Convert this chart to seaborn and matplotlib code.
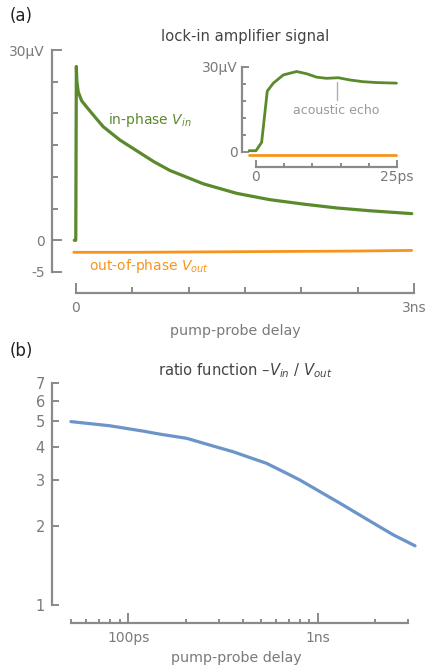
import numpy as np
import pandas as pd
import matplotlib
matplotlib.use("Agg")
import matplotlib.pyplot as plt
import seaborn as sns
from matplotlib.ticker import FixedLocator, NullFormatter, FixedFormatter

# ---------------- data ----------------
# panel (a) main: delay in ns, signal in microvolts
t_in_ns = [-0.015, -0.002, 0.003, 0.008, 0.02, 0.05, 0.095, 0.17, 0.242, 0.39, 0.54, 0.69, 0.834, 1.13, 1.426, 1.72, 2.02, 2.31, 2.61, 2.98]
v_in = [0.0, 0.0, 27.4, 25.0, 23.4, 22.0, 21.0, 19.4, 17.9, 15.8, 14.1, 12.4, 11.0, 8.9, 7.4, 6.4, 5.7, 5.1, 4.65, 4.2]
t_out_ns = [-0.02, 0.5, 1.0, 1.5, 2.0, 2.5, 2.98]
v_out = [-1.9, -1.9, -1.85, -1.8, -1.75, -1.7, -1.6]

# panel (a) inset: delay in ps, signal in microvolts
t_in_ps = [-1.2, 0.0, 1.0, 2.0, 3.07, 4.85, 7.2, 9.0, 10.75, 12.5, 14.6, 16.7, 19.0, 21.4, 24.9]
v_in_ps = [0.35, 0.35, 3.3, 21.4, 24.2, 27.1, 28.3, 27.5, 26.3, 25.9, 26.1, 25.3, 24.7, 24.4, 24.2]
t_out_ps = [-1.2, 24.9]
v_out_ps = [-1.2, -1.2]
echo_ps = 14.3

# panel (b): delay in ps, ratio -Vin/Vout
t_ratio_ps = [49.7, 79.9, 119.7, 146.6, 202.8, 269.5, 357, 536, 684, 803, 1025, 1306, 1959, 2495, 3251]
ratio = [4.99, 4.81, 4.59, 4.47, 4.31, 4.06, 3.83, 3.46, 3.17, 2.99, 2.70, 2.44, 2.05, 1.85, 1.68]

# tick labels
a_yticks = [-5, 0, 30]
a_yticklabels = ["-5", "0", "30µV"]
a_xticks = [0, 3]
a_xticklabels = ["0", "3ns"]
in_yticklabels = ["0", "30µV"]
in_xticklabels = ["0", "25ps"]
b_yticks = [1, 2, 3, 4, 5, 6, 7]
b_xticks = [100, 1000]
b_xticklabels = ["100ps", "1ns"]

# ---------------- style ----------------
sns.set_theme(style="ticks")
plt.rcParams['font.family'] = ['DejaVu Sans']
plt.rcParams['mathtext.fontset'] = 'dejavusans'

GREEN = "#5a8a2c"
ORANGE = "#f7941d"
BLUE = "#6b94c9"
AX = "#8a8a8a"
TXT = "#7a7a7a"
TITLE = "#444444"
FS = 10

W, H = 427, 666
fig = plt.figure(figsize=(W / 100, H / 100), dpi=100)


def add_ax(left, top, right, bottom):
    return fig.add_axes([left / W, 1 - bottom / H, (right - left) / W, (bottom - top) / H])


def style_ax(ax):
    for s in ["top", "right"]:
        ax.spines[s].set_visible(False)
    for s in ["left", "bottom"]:
        ax.spines[s].set_color(AX)
        ax.spines[s].set_linewidth(1.6)
    ax.tick_params(which="both", direction="in", color=AX, width=1.4, labelcolor=TXT, labelsize=FS)
    ax.tick_params(which="major", length=7)
    ax.tick_params(which="minor", length=4)
    ax.set_facecolor("none")
    ax.grid(False)


def line(ax, x, y, color, lw):
    df = pd.DataFrame({"x": x, "y": y})
    sns.lineplot(data=df, x="x", y="y", ax=ax, color=color, linewidth=lw, sort=False, estimator=None)


# ---- panel (a) main ----
ax = add_ax(52, 45, 418, 293)
style_ax(ax)
line(ax, t_in_ns, v_in, GREEN, 2.3)
line(ax, t_out_ns, v_out, ORANGE, 2.0)
ax.set_xlim(-24 / 112.67, 3 + 4 / 112.67)
ax.set_ylim(-5 - 21 / 6.333, 30 + 5 / 6.333)
ax.spines["left"].set_bounds(-5, 30)
ax.spines["bottom"].set_bounds(0, 3)
ax.yaxis.set_major_locator(FixedLocator(a_yticks))
ax.yaxis.set_major_formatter(FixedFormatter(a_yticklabels))
ax.yaxis.set_minor_locator(FixedLocator([5, 10, 15, 20, 25]))
ax.xaxis.set_major_locator(FixedLocator(a_xticks))
ax.xaxis.set_major_formatter(FixedFormatter(a_xticklabels))
ax.xaxis.set_minor_locator(FixedLocator([0.5, 1, 1.5, 2, 2.5]))
ax.tick_params(axis="y", pad=5)
ax.tick_params(axis="x", pad=6)
ax.set_xlabel("pump-probe delay", color=TXT, fontsize=FS + 0.3, labelpad=6)
ax.set_ylabel("")
ax.text(108 / W, 1 - 120 / H, "in-phase $\\mathit{V}_{\\mathit{in}}$", transform=fig.transFigure,
        color=GREEN, fontsize=FS, va="center", ha="left")
ax.text(89 / W, 1 - 266 / H, "out-of-phase $\\mathit{V}_{\\mathit{out}}$", transform=fig.transFigure,
        color=ORANGE, fontsize=FS, va="center", ha="left")

# ---- inset ----
ai = add_ax(242, 62, 402, 167)
style_ax(ai)
line(ai, t_in_ps, v_in_ps, GREEN, 2.0)
line(ai, t_out_ps, v_out_ps, ORANGE, 2.0)
ai.set_xlim(-14 / 5.64, 25 + 5 / 5.64)
ai.set_ylim(-(167 - 151.7) / 2.833, 30 + 4.7 / 2.833)
ai.spines["left"].set_bounds(0, 30)
ai.spines["bottom"].set_bounds(0, 25)
ai.yaxis.set_major_locator(FixedLocator([0, 30]))
ai.yaxis.set_major_formatter(FixedFormatter(in_yticklabels))
ai.yaxis.set_minor_locator(FixedLocator([6, 12, 18, 24]))
ai.xaxis.set_major_locator(FixedLocator([0, 25]))
ai.xaxis.set_major_formatter(FixedFormatter(in_xticklabels))
ai.xaxis.set_minor_locator(FixedLocator([5, 10, 15, 20]))
ai.tick_params(which="major", length=5)
ai.tick_params(which="minor", length=3)
ai.tick_params(axis="y", pad=3)
ai.tick_params(axis="x", pad=2)
ai.set_xlabel("")
ai.set_ylabel("")
ai.plot([echo_ps, echo_ps], [24.6, 18.3], color="#b0b0b0", linewidth=1.0)
ai.text(echo_ps, 14.4, "acoustic echo", color="#999999", fontsize=9, ha="center", va="center")

fig.text(245 / W, 1 - 37 / H, "lock-in amplifier signal", color=TITLE, fontsize=FS + 0.6, ha="center", va="center")
fig.text(10 / W, 1 - 16 / H, "(a)", color="#222222", fontsize=12, ha="left", va="center")

# ---- panel (b) ----
bx = add_ax(52, 378, 420, 623)
style_ax(bx)
line(bx, t_ratio_ps, ratio, BLUE, 2.3)
bx.set_xscale("log")
bx.set_yscale("log")
bx.set_xlim(10 ** (2 - (128.5 - 52) / 189.5), 10 ** (3 + (420 - 318) / 189.5))
bx.set_ylim(10 ** (-(623 - 605) / 262.7), 10 ** ((605 - 378) / 262.7))
bx.spines["left"].set_bounds(1, 7)
bx.spines["bottom"].set_bounds(50, 3000)
bx.yaxis.set_major_locator(FixedLocator(b_yticks))
bx.yaxis.set_major_formatter(FixedFormatter([str(v) for v in b_yticks]))
bx.yaxis.set_minor_locator(FixedLocator([]))
bx.yaxis.set_minor_formatter(NullFormatter())
bx.tick_params(axis="y", which="major", length=5, pad=5, labelsize=10.5)
bx.xaxis.set_major_locator(FixedLocator(b_xticks))
bx.xaxis.set_major_formatter(FixedFormatter(b_xticklabels))
bx.xaxis.set_minor_locator(FixedLocator([50, 60, 70, 80, 90, 200, 300, 400, 500, 600, 700, 800, 900, 2000, 3000]))
bx.xaxis.set_minor_formatter(NullFormatter())
bx.tick_params(axis="x", which="major", length=7, pad=6)
bx.tick_params(axis="x", which="minor", length=3)
bx.set_xlabel("pump-probe delay", color=TXT, fontsize=FS + 0.3, labelpad=4)
bx.set_ylabel("")

fig.text(245 / W, 1 - 371 / H, "ratio function –$\\mathit{V}_{\\mathit{in}}$ / $\\mathit{V}_{\\mathit{out}}$",
         color=TITLE, fontsize=FS + 0.6, ha="center", va="center")
fig.text(10 / W, 1 - 351 / H, "(b)", color="#222222", fontsize=12, ha="left", va="center")

fig.savefig("out.png", dpi=100)
